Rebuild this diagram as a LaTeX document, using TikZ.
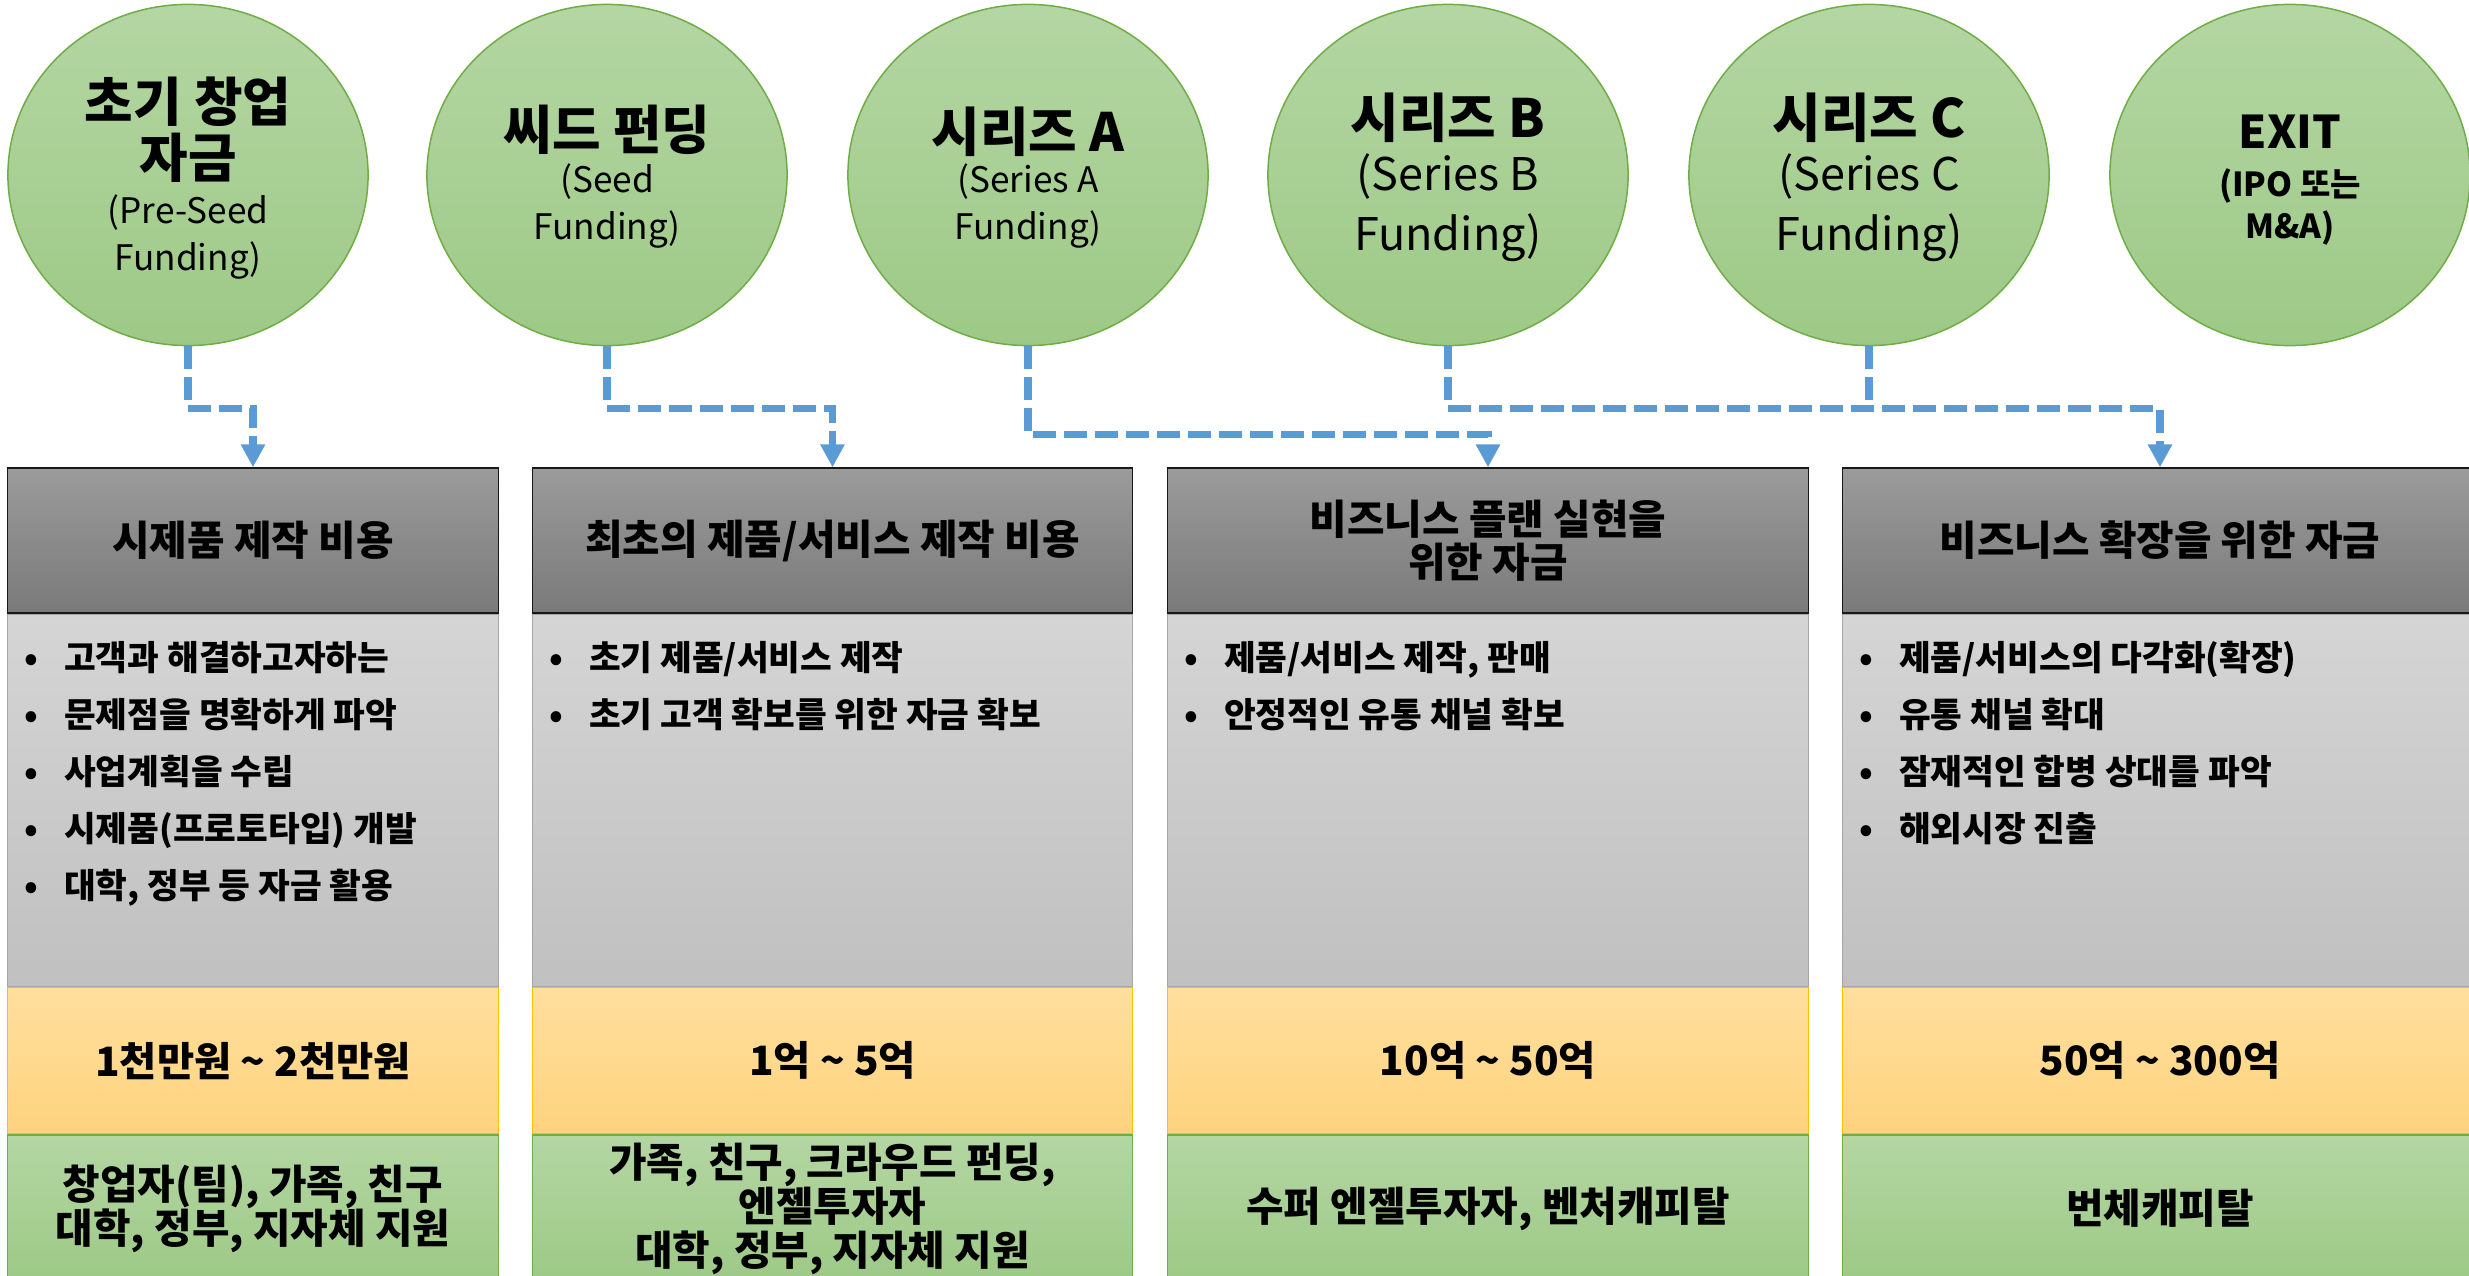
\documentclass[tikz,border=0pt]{standalone}
\usepackage{fontspec}
\setmainfont{Noto Sans CJK KR}
\usetikzlibrary{positioning,shapes.geometric,arrows.meta}

\definecolor{stagetop}{HTML}{B4D6A3}
\definecolor{stagebot}{HTML}{9DC986}
\definecolor{stageline}{HTML}{70AD47}
\definecolor{headtop}{HTML}{9B9B9B}
\definecolor{headbot}{HTML}{7A7A7A}
\definecolor{bodytop}{HTML}{D5D5D5}
\definecolor{bodybot}{HTML}{C0C0C0}
\definecolor{bodyline}{HTML}{A6A6A6}
\definecolor{costtop}{HTML}{FFDF9E}
\definecolor{costbot}{HTML}{FED37E}
\definecolor{costline}{HTML}{FFC000}
\definecolor{flowblue}{HTML}{5B9BD5}

\newcommand\itemdot{\makebox[0.3cm][c]{\textbullet}\hspace{0.18cm}}

\begin{document}
\begin{tikzpicture}[x=0.01cm,y=-0.01cm,
  stage/.style={ellipse,draw=stageline,line width=0.015cm,top color=stagetop,bottom color=stagebot,
    minimum width=3.6cm,minimum height=3.41cm,inner sep=0pt},
  stagett/.style={inner sep=0pt,align=center,font=\bfseries\fontsize{15}{15.9}\selectfont},
  stagesub/.style={inner sep=0pt,align=center,font=\fontsize{10}{13.4}\selectfont},
  head/.style={draw=black!90,line width=0.012cm,top color=headtop,bottom color=headbot,
    minimum height=1.45cm,inner sep=0pt,align=center,font=\bfseries\fontsize{11.6}{12.2}\selectfont},
  body/.style={draw=bodyline,line width=0.012cm,top color=bodytop,bottom color=bodybot,
    minimum height=3.72cm,inner sep=0pt},
  points/.style={minimum width=0pt,inner sep=0pt,outer sep=0pt,align=left,
    font=\bfseries\fontsize{9.8}{16.2}\selectfont},
  cost/.style={draw=costline,line width=0.012cm,top color=costtop,bottom color=costbot,
    minimum height=1.46cm,inner sep=0pt,font=\bfseries\fontsize{11.5}{13}\selectfont},
  source/.style={draw=stageline,line width=0.012cm,top color=stagetop,bottom color=stagebot,
    minimum height=1.47cm,inner sep=0pt,align=center,font=\bfseries\fontsize{11.6}{12.5}\selectfont},
  flow/.style={draw=flowblue,line width=0.075cm,dash pattern=on 0.23cm off 0.08cm},
  tip/.style={-{Triangle[length=0.23cm,width=0.23cm]}}]
  \useasboundingbox (0,0) rectangle (2469,1276);

  % funding stages
  \node[stage] (e1) at (188,175) {};
  \node[stage] (e2) at (607,175) {};
  \node[stage] (e3) at (1028,175) {};
  \node[stage] (e4) at (1448,175) {};
  \node[stage] (e5) at (1869,175) {};
  \node[stage] (e6) at (2290,175) {};

  \node[stagett] (t1) at (188,130) {초기 창업\\자금};
  \node[stagesub] (u1) at (188,237) {(Pre-Seed\\Funding)};
  \node[stagett] (t2) at (607,130) {씨드 펀딩};
  \node[stagesub] (u2) at (607,206) {(Seed\\Funding)};
  \node[stagett] (t3) at (1028,132) {시리즈 A};
  \node[stagesub] (u3) at (1028,206) {(Series A\\Funding)};
  \node[stagett] (t4) at (1448,118) {시리즈 B};
  \node[stagesub,font=\fontsize{12.8}{17.1}\selectfont] (u4) at (1448,208) {(Series B\\Funding)};
  \node[stagett] (t5) at (1869,118) {시리즈 C};
  \node[stagesub,font=\fontsize{12.8}{17.1}\selectfont] (u5) at (1869,208) {(Series C\\Funding)};
  \node[stagett,font=\bfseries\fontsize{12.8}{14}\selectfont] (t6) at (2290,132) {EXIT};
  \node[stagesub,font=\bfseries\fontsize{9.4}{12.2}\selectfont] (u6) at (2290,207) {(IPO 또는\\M\&A)};

  % columns
  \begin{scope}[every node/.append style={minimum width=4.9cm}]
  \node[head] (h1) at (253,540.5) {시제품 제작 비용};
  \node[body, below=0pt of h1] (p1) {};
  \node[points, below right=0.275cm and 0.09cm of p1.north west] (l1) {\itemdot 고객과 해결하고자하는\\\itemdot 문제점을 명확하게 파악\\\itemdot 사업계획을 수립\\\itemdot 시제품(프로토타입) 개발\\\itemdot 대학, 정부 등 자금 활용};
  \node[cost, below=0pt of p1] (c1) {1천만원 \textasciitilde{} 2천만원};
  \node[source, below=0pt of c1] (s1) {창업자(팀), 가족, 친구\\대학, 정부, 지자체 지원};
  \end{scope}

  \begin{scope}[every node/.append style={minimum width=5.99cm}]
  \node[head] (h2) at (832.5,540.5) {최초의 제품/서비스 제작 비용};
  \node[body, below=0pt of h2] (p2) {};
  \node[points, below right=0.275cm and 0.09cm of p2.north west] (l2) {\itemdot 초기 제품/서비스 제작\\\itemdot 초기 고객 확보를 위한 자금 확보};
  \node[cost, below=0pt of p2] (c2) {1억 \textasciitilde{} 5억};
  \node[source, below=0pt of c2] (s2) {가족, 친구, 크라우드 펀딩,\\엔젤투자자\\대학, 정부, 지자체 지원};
  \end{scope}

  \begin{scope}[every node/.append style={minimum width=6.4cm}]
  \node[head] (h3) at (1488,540.5) {비즈니스 플랜 실현을\\위한 자금};
  \node[body, below=0pt of h3] (p3) {};
  \node[points, below right=0.275cm and 0.09cm of p3.north west] (l3) {\itemdot 제품/서비스 제작, 판매\\\itemdot 안정적인 유통 채널 확보};
  \node[cost, below=0pt of p3] (c3) {10억 \textasciitilde{} 50억};
  \node[source, below=0pt of c3] (s3) {수퍼 엔젤투자자, 벤처캐피탈};
  \end{scope}

  \begin{scope}[every node/.append style={minimum width=6.34cm}]
  \node[head] (h4) at (2160,540.5) {비즈니스 확장을 위한 자금};
  \node[body, below=0pt of h4] (p4) {};
  \node[points, below right=0.275cm and 0.09cm of p4.north west] (l4) {\itemdot 제품/서비스의 다각화(확장)\\\itemdot 유통 채널 확대\\\itemdot 잠재적인 합병 상대를 파악\\\itemdot 해외시장 진출};
  \node[cost, below=0pt of p4] (c4) {50억 \textasciitilde{} 300억};
  \node[source, below=0pt of c4] (s4) {번체캐피탈};
  \end{scope}

  % connectors
  \draw[flow,tip] (e1.south) -- ++(0,62) -| (h1.north);
  \draw[flow,tip] (e2.south) -- ++(0,62) -| (h2.north);
  \draw[flow,tip] (e3.south) -- ++(0,88) -| (h3.north);
  \draw[flow,tip] (e4.south) -- ++(0,62) coordinate (jB) -| (h4.north);
  \draw[flow] (e5.south) -- (e5.south |- jB);
\end{tikzpicture}
\end{document}
